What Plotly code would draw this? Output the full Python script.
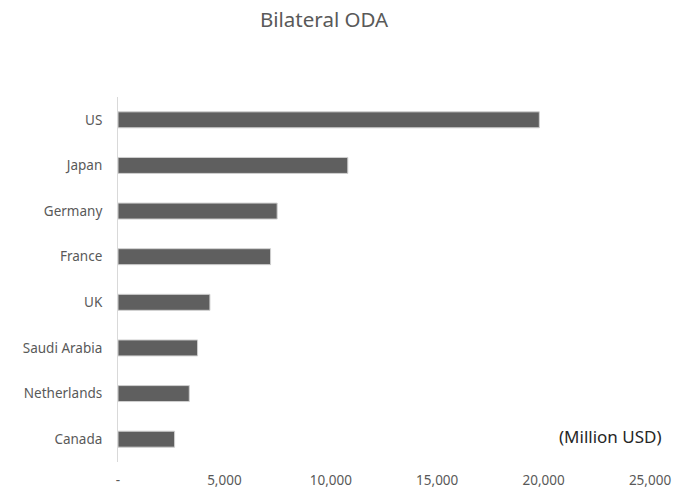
import plotly.graph_objects as go

countries = ["US", "Japan", "Germany", "France", "UK", "Saudi Arabia", "Netherlands", "Canada"]
values = [19800, 10800, 7480, 7170, 4320, 3740, 3350, 2660]
tick_vals = [0, 5000, 10000, 15000, 20000, 25000]
tick_text = ["-", "5,000", "10,000", "15,000", "20,000", "25,000"]

fig = go.Figure()
fig.add_trace(go.Bar(
    x=values, y=countries, orientation="h",
    marker=dict(color="#5f5f5f", line=dict(color="#d0d0d0", width=1)),
    width=0.35,
))

fig.update_layout(
    width=678, height=493,
    margin=dict(l=118, r=28, t=97, b=31),
    paper_bgcolor="white", plot_bgcolor="white",
    font=dict(family="Noto Sans", color="#595959", size=13),
    showlegend=False,
    title=dict(text="Bilateral ODA", x=0.478, xanchor="center", y=0.96, yref="container",
               yanchor="middle", font=dict(size=20.5, color="#595959", family="Noto Sans")),
    xaxis=dict(range=[0, 25000], tickvals=tick_vals, ticktext=tick_text, showgrid=False,
               zeroline=False, showline=False, ticklabelstandoff=8,
               tickfont=dict(size=13.5, color="#595959"), automargin=False),
    yaxis=dict(categoryorder="array", categoryarray=countries[::-1], showgrid=False,
               zeroline=False, showline=True, linecolor="#d9d9d9", linewidth=1,
               ticks="", ticklabelstandoff=12, tickfont=dict(size=13.5, color="#595959"),
               automargin=False),
    annotations=[dict(text="(Million USD)", xref="paper", yref="paper", x=0.925, y=0.071,
                      xanchor="center", yanchor="middle", showarrow=False,
                      font=dict(size=17, color="#262626", family="Noto Sans"))],
)

fig.write_html("out.html", config={"displayModeBar": False},
               post_script="document.body.style.margin='0';")
